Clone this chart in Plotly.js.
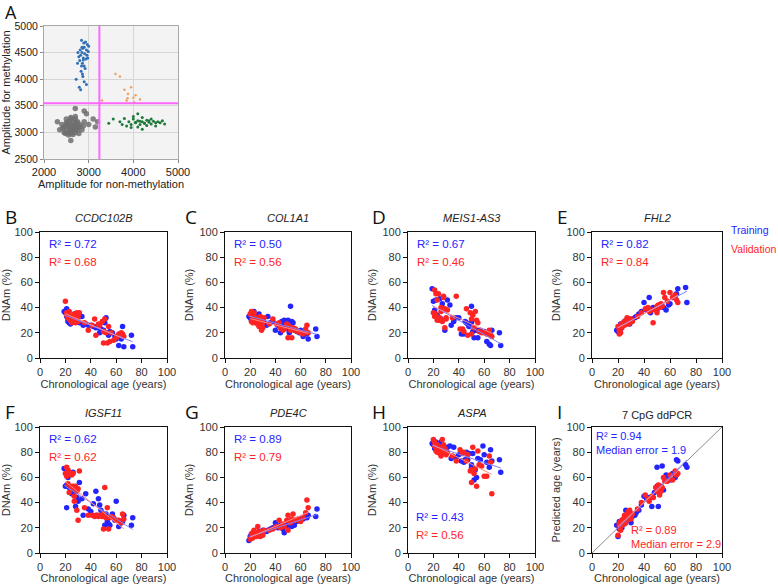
<!DOCTYPE html>
<html>
<head>
<meta charset="utf-8">
<script src="https://cdn.plot.ly/plotly-3.0.1.min.js"></script>
<style>html,body{margin:0;padding:0;background:#fff;}#chart{width:778px;height:584px;}</style>
</head>
<body>
<div id="chart"></div>
<script>
// ---------- Panel A: ddPCR droplet amplitudes ----------
const grayX = [2450,2500,2550,2600,2650,2700,2750,2500,2550,2600,2650,2700,2750,2800,2450,2500,2550,2600,2650,2700,2750,2800,2550,2600,2650,2700,2500,2600,2700,2400,2850,2900,2420,2480,2580,2680,2780,2880,2620,2720,3000,3100,3200,2950,2350,2300,3150,2900,2700,2600];
const grayY = [3100,3150,3200,3250,3200,3150,3100,3050,3000,3050,3100,3250,3200,3150,3000,3250,3100,3150,3050,3000,3050,3100,2950,2980,2960,3050,3180,3280,3300,3150,3050,3200,3080,2980,3120,3130,2980,3120,3060,3180,3150,3250,3200,3350,3050,3200,3100,3400,3450,2850];
const blueX = [2850,2900,2950,2880,2820,2930,2970,2860,2800,2910,2990,2840,2780,2870,2940,2890,2810,2960,3000,2830,2920,2750,2870,2900,2860,2790,2950,2840,2880,2760,2720,2820,2900,2850,2980];
const blueY = [4500,4600,4550,4400,4450,4700,4650,4300,4350,4480,4520,4250,4420,4580,4380,4680,4550,4450,4620,4150,4200,4300,4050,3950,4100,3850,3900,4730,4360,4500,4000,3800,4250,4600,4400];
const greenX = [3900,3950,4000,4050,4100,4150,4200,4250,4300,4350,4400,4450,4500,4550,3850,4000,4100,4200,4300,4400,4050,4150,4250,4350,3800,3750,4600,4650,3950,4500,4100,4200,3700,3550,3450,4700];
const greenY = [3200,3150,3250,3180,3220,3150,3200,3170,3230,3190,3160,3210,3180,3200,3120,3300,3100,3280,3130,3250,3190,3210,3170,3220,3260,3150,3180,3220,3090,3120,3350,3060,3200,3250,3170,3160];
const orangeX = [3600,3700,3800,3880,3950,4000,4050,4150,3300,3850,4020,3870];
const orangeY = [4100,4050,3800,3720,3850,3650,3700,3620,3600,3600,3560,3640];
const thresholdX = 3240;
const thresholdY = 3550;

// ---------- Panels B-I: ages ----------
const trainAge = [19,20,21,21,22,22,23,24,25,26,27,28,29,30,31,33,34,36,38,40,42,44,45,46,47,48,50,50,51,52,53,54,55,57,59,60,62,64,65,66,72,73];
const validAge = [20,21,21,22,22,23,23,24,25,25,26,26,27,27,28,28,29,29,30,30,31,35,38,41,43,44,46,47,49,50,50,51,52,53,54,55,56,58,60,62,64,65,66];

// DNAm (%) per marker
const ccdc102bTrain = [37,36,39,33,29,31,28,27,33,29,35,31,30,29,28,33,26,27,26,26,25,24,25,24,20,23,22,21,28,32,20,18,21,20,17,15,10,15,25,9,18,9];
const ccdc102bValid = [45,34,36,32,35,37,31,30,33,28,31,29,30,35,28,32,36,31,33,29,36,28,22,26,31,18,27,26,29,12,21,31,20,12,25,13,20,14,16,19,20,19,17];
const col1a1Train = [33,32,35,30,29,34,37,31,30,33,35,27,30,31,28,26,33,28,29,22,26,20,29,27,30,25,30,23,20,41,29,28,22,21,20,22,17,21,19,15,23,17];
const col1a1Valid = [35,37,29,28,33,36,30,28,32,29,31,27,30,25,33,26,22,31,28,24,32,27,31,27,28,24,22,23,27,16,26,25,22,16,24,22,23,21,20,19,23,26,20];
const meis1Train = [55,45,35,38,33,46,34,32,47,31,43,39,22,38,46,42,26,29,32,32,19,19,29,28,27,25,41,28,21,16,22,22,16,22,21,21,13,11,10,22,20,10];
const meis1Valid = [36,54,33,51,35,46,30,51,30,32,37,40,29,30,49,48,24,39,31,32,38,32,49,23,23,21,39,18,36,19,31,34,24,37,30,28,21,20,20,19,22,18,17];
const fhl2Train = [22,21,20,24,27,23,25,26,29,27,28,29,27,30,31,32,33,35,37,44,38,48,36,39,40,39,38,40,41,42,42,41,40,38,42,43,48,49,51,55,56,44];
const fhl2Valid = [25,22,19,26,20,24,27,28,26,29,30,27,32,29,27,30,31,28,30,31,29,33,36,39,40,37,38,28,38,41,36,42,40,43,41,52,48,45,52,48,50,46,44];
const igsf11Train = [67,53,36,54,53,60,52,63,47,64,48,37,44,41,56,43,30,47,35,33,39,49,30,43,38,34,30,31,22,31,25,23,22,31,26,41,21,24,25,30,22,28];
const igsf11Valid = [63,68,61,55,66,48,64,53,62,51,63,53,41,45,53,51,49,34,51,26,65,36,30,30,29,30,29,30,29,19,31,52,28,36,19,28,29,28,26,26,24,31,27];
const pde4cTrain = [10,13,12,15,14,13,15,16,15,14,17,16,17,18,17,17,18,19,20,24,20,22,21,19,16,22,23,22,24,23,21,22,22,25,26,27,27,29,28,30,29,35];
const pde4cValid = [11,15,13,12,16,18,14,15,13,16,21,15,17,14,16,13,15,17,16,14,18,18,19,21,26,20,23,21,26,30,18,25,24,27,31,26,26,27,25,28,32,42,36];
const aspaTrain = [87,86,85,83,88,84,86,82,87,88,85,83,80,82,84,85,75,84,76,78,73,72,74,80,74,79,70,68,79,58,66,60,75,74,85,78,72,68,82,73,74,64];
const aspaValid = [90,85,88,84,81,86,80,83,79,82,77,84,90,81,86,79,80,83,78,81,80,77,73,82,79,80,73,78,65,56,66,84,63,67,53,81,70,69,61,61,77,72,47];
// Predicted age (years), 7 CpG ddPCR model
const predTrain = [22,13,25,19,22,23,20,24,25,34,28,27,32,24,29,30,32,34,38,45,43,44,44,37,44,48,68,53,37,48,53,69,50,62,60,58,63,60,74,73,70,68];
const predValid = [14,21,23,18,25,26,22,27,30,23,24,28,29,31,33,27,34,30,29,27,31,35,40,46,43,41,45,44,52,49,51,54,46,49,52,60,57,57,62,58,65,62,63];

const panelLetters = ['B','C','D','E','F','G','H','I'];
const panelTitles = ['CCDC102B','COL1A1','MEIS1-AS3','FHL2','IGSF11','PDE4C','ASPA','7 CpG ddPCR'];
const r2Train = ['0.72','0.50','0.67','0.82','0.62','0.89','0.43','0.94'];
const r2Valid = ['0.68','0.56','0.46','0.84','0.62','0.79','0.56','0.89'];
const medianErrTrain = '1.9';
const medianErrValid = '2.9';
const legendLabels = ['Training','Validation'];

// ---------- layout helpers ----------
const W = 778, H = 584;
const px = v => v / W;
const py = v => 1 - v / H;
const BLUE = '#2424ff', RED = '#ff2424';
const FONT = 'Liberation Sans, Arial, sans-serif';

const trainSets = [ccdc102bTrain,col1a1Train,meis1Train,fhl2Train,igsf11Train,pde4cTrain,aspaTrain,predTrain];
const validSets = [ccdc102bValid,col1a1Valid,meis1Valid,fhl2Valid,igsf11Valid,pde4cValid,aspaValid,predValid];

// pixel boxes [left,right,top,bottom]
const boxes = [
  [40,167,232,358],[225,351,232,358],[408,535,232,358],[592,722,232,358],
  [40,167,427,553],[225,351,427,553],[408,535,427,553],[592,722,427,553]
];

function fit(xs, ys){
  const n = xs.length;
  let sx=0, sy=0, sxx=0, sxy=0;
  for(let i=0;i<n;i++){sx+=xs[i];sy+=ys[i];sxx+=xs[i]*xs[i];sxy+=xs[i]*ys[i];}
  const b = (n*sxy - sx*sy)/(n*sxx - sx*sx);
  const a = (sy - b*sx)/n;
  const x0 = Math.min(...xs), x1 = Math.max(...xs);
  return {x:[x0,x1], y:[a+b*x0, a+b*x1]};
}

const traces = [];
// Panel A traces
traces.push({type:'scatter',mode:'markers',x:grayX,y:grayY,xaxis:'x',yaxis:'y',marker:{size:5.5,color:'#6e6e6e',opacity:0.85},hoverinfo:'skip'});
traces.push({type:'scatter',mode:'markers',x:blueX,y:blueY,xaxis:'x',yaxis:'y',marker:{size:3,color:'#2f6fb5'},hoverinfo:'skip'});
traces.push({type:'scatter',mode:'markers',x:greenX,y:greenY,xaxis:'x',yaxis:'y',marker:{size:3,color:'#1f7a3a'},hoverinfo:'skip'});
traces.push({type:'scatter',mode:'markers',x:orangeX,y:orangeY,xaxis:'x',yaxis:'y',marker:{size:2.5,color:'#f0a060'},hoverinfo:'skip'});

const layout = {
  width: W, height: H,
  margin:{l:0,r:0,t:0,b:0},
  paper_bgcolor:'#ffffff', plot_bgcolor:'rgba(0,0,0,0)',
  showlegend:false,
  font:{family:FONT,color:'#222',size:11},
  annotations:[], shapes:[]
};

// Panel A axes
layout.xaxis = {domain:[px(44),px(178)], range:[2000,5000], tickvals:[2000,3000,4000,5000],
  showgrid:true, gridcolor:'#d6d6d6', zeroline:false, showline:true, mirror:true, linecolor:'#a8a8a8', linewidth:1,
  ticks:'outside', ticklen:3, tickcolor:'#888', tickfont:{size:11,family:FONT,color:'#222'},
  title:{text:'Amplitude for non-methylation', font:{size:11,family:FONT,color:'#222'}, standoff:3}, anchor:'y'};
layout.yaxis = {domain:[py(159),py(26)], range:[2500,5000], tickvals:[2500,3000,3500,4000,4500,5000],
  showgrid:true, gridcolor:'#d6d6d6', zeroline:false, showline:true, mirror:true, linecolor:'#a8a8a8', linewidth:1,
  ticks:'outside', ticklen:3, tickcolor:'#888', tickfont:{size:10.5,family:FONT,color:'#222'},
  title:{text:'Amplitude for methylation', font:{size:11,family:FONT,color:'#222'}, standoff:4}, anchor:'x'};
layout.shapes.push({type:'rect',xref:'x domain',yref:'y domain',x0:0,x1:1,y0:0,y1:1,fillcolor:'#f3f3f3',line:{width:0},layer:'below'});
layout.shapes.push({type:'line',xref:'x',yref:'y domain',x0:thresholdX,x1:thresholdX,y0:0,y1:1,line:{color:'#ff66ff',width:2}});
layout.shapes.push({type:'line',xref:'x domain',yref:'y',x0:0,x1:1,y0:thresholdY,y1:thresholdY,line:{color:'#ff66ff',width:2}});
layout.annotations.push({text:'A',xref:'paper',yref:'paper',x:px(3),y:py(12),xanchor:'left',yanchor:'middle',showarrow:false,font:{family:'Open Sans, sans-serif',size:18,color:'#111'}});

// Panels B-I
for(let k=0;k<8;k++){
  const id = k+2;
  const xa = 'x'+id, ya = 'y'+id;
  const [l,r,t,b] = boxes[k];
  const tr = trainSets[k], va = validSets[k];
  traces.push({type:'scatter',mode:'markers',x:trainAge,y:tr,xaxis:xa,yaxis:ya,marker:{size:5.5,color:BLUE},hoverinfo:'skip'});
  traces.push({type:'scatter',mode:'markers',x:validAge,y:va,xaxis:xa,yaxis:ya,marker:{size:5.5,color:RED},hoverinfo:'skip'});
  const ft = fit(trainAge,tr), fv = fit(validAge,va);
  traces.push({type:'scatter',mode:'lines',x:ft.x,y:ft.y,xaxis:xa,yaxis:ya,line:{color:'#8080ff',width:1},hoverinfo:'skip'});
  traces.push({type:'scatter',mode:'lines',x:fv.x,y:fv.y,xaxis:xa,yaxis:ya,line:{color:'#ff8a8a',width:1},hoverinfo:'skip'});

  const isPred = (k===7);
  layout['xaxis'+id] = {domain:[px(l),px(r)], range:[0,100], tickvals:[0,20,40,60,80,100], anchor:ya,
    showgrid:false, zeroline:false, showline:true, mirror:true, linecolor:'#111', linewidth:1,
    ticks:'outside', ticklen:4, tickcolor:'#111', tickfont:{size:11,family:FONT,color:'#333'},
    title:{text:'Chronological age (years)', font:{size:11,family:FONT,color:'#333'}, standoff:3}};
  layout['yaxis'+id] = {domain:[py(b),py(t)], range:[0,100], tickvals:[0,20,40,60,80,100], anchor:xa,
    showgrid:false, zeroline:false, showline:true, mirror:true, linecolor:'#111', linewidth:1,
    ticks:'outside', ticklen:4, tickcolor:'#111', tickfont:{size:11,family:FONT,color:'#333'},
    title:{text: isPred ? 'Predicted age (years)' : 'DNAm (%)', font:{size:11,family:FONT,color:'#333'}, standoff:3}};

  // panel letter
  const letterX = [3,183,370,555,3,183,370,555][k];
  const letterY = t-30;
  layout.annotations.push({text:panelLetters[k],xref:'paper',yref:'paper',x:px(letterX),y:py(letterY),xanchor:'left',yanchor:'top',showarrow:false,font:{family:'Open Sans, sans-serif',size:19,color:'#111'}});
  // gene title
  layout.annotations.push({text: isPred ? panelTitles[k] : '<i>'+panelTitles[k]+'</i>', xref:'paper',yref:'paper',x:px((l+r)/2),y:py(isPred ? t-12 : t-14),xanchor:'center',yanchor:'middle',showarrow:false,font:{family:FONT,size:11,color:'#222'}});

  // R² labels
  if(k===6){
    layout.annotations.push({text:'R² = '+r2Train[k],xref:'paper',yref:'paper',x:px(l+6),y:py(517),xanchor:'left',yanchor:'middle',showarrow:false,font:{family:FONT,size:11.5,color:BLUE}});
    layout.annotations.push({text:'R² = '+r2Valid[k],xref:'paper',yref:'paper',x:px(l+6),y:py(535),xanchor:'left',yanchor:'middle',showarrow:false,font:{family:FONT,size:11.5,color:RED}});
  } else if(k===7){
    layout.annotations.push({text:'R² = '+r2Train[k]+'<br>Median error = '+medianErrTrain,xref:'paper',yref:'paper',x:px(l+2),y:py(t+1),xanchor:'left',yanchor:'top',align:'left',showarrow:false,font:{family:FONT,size:11,color:BLUE}});
    layout.annotations.push({text:'R² = '+r2Valid[k]+'<br>Median error = '+medianErrValid,xref:'paper',yref:'paper',x:px(l+37),y:py(b-1),xanchor:'left',yanchor:'bottom',align:'left',showarrow:false,font:{family:FONT,size:11,color:RED}});
    layout.shapes.push({type:'line',xref:xa,yref:ya,x0:0,y0:0,x1:100,y1:100,line:{color:'#8a8a8a',width:1},layer:'below'});
  } else {
    layout.annotations.push({text:'R² = '+r2Train[k],xref:'paper',yref:'paper',x:px(l+7),y:py(t+12),xanchor:'left',yanchor:'middle',showarrow:false,font:{family:FONT,size:11.5,color:BLUE}});
    layout.annotations.push({text:'R² = '+r2Valid[k],xref:'paper',yref:'paper',x:px(l+7),y:py(t+30),xanchor:'left',yanchor:'middle',showarrow:false,font:{family:FONT,size:11.5,color:RED}});
  }
}

// Training / Validation legend text
layout.annotations.push({text:legendLabels[0],xref:'paper',yref:'paper',x:px(729),y:py(230),xanchor:'left',yanchor:'middle',showarrow:false,font:{family:FONT,size:10.5,color:BLUE}});
layout.annotations.push({text:legendLabels[1],xref:'paper',yref:'paper',x:px(729),y:py(249),xanchor:'left',yanchor:'middle',showarrow:false,font:{family:FONT,size:10.5,color:RED}});

Plotly.newPlot('chart', traces, layout, {staticPlot:true, displayModeBar:false});
</script>
</body>
</html>
